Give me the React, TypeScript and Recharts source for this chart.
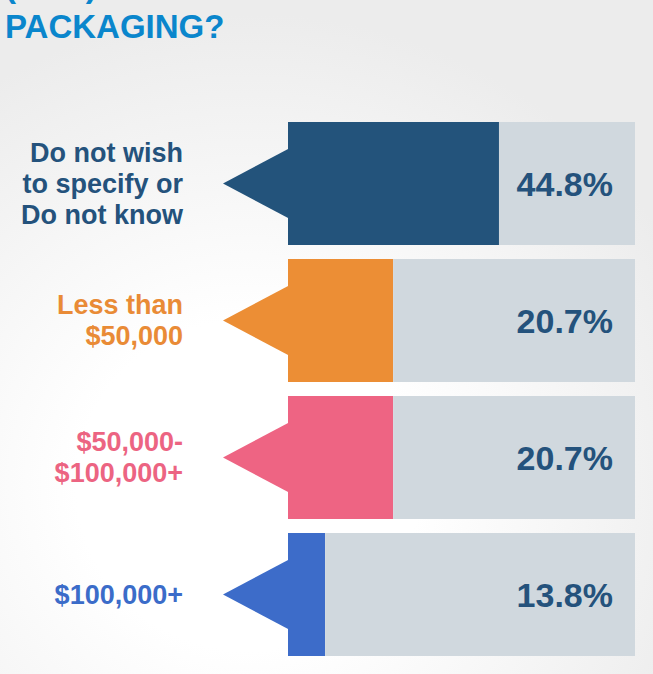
import React from 'react'
import { BarChart, Bar, XAxis, YAxis, LabelList } from 'recharts'

// ─── Data ───
const categories = [
  'Do not wish\nto specify or\nDo not know',
  'Less than\n$50,000',
  '$50,000-\n$100,000+',
  '$100,000+',
]
const shareLabels = ['44.8%', '20.7%', '20.7%', '13.8%']
// filled part of each bar as drawn, in % of the grey track
const fillLength = [60.8, 30.3, 30.3, 10.7]
const barColors = ['#23537b', '#ec8e35', '#ee6483', '#3d6cc9']
const labelColors = ['#24527c', '#e98b36', '#ec6482', '#3b6cc9']

const TRACK = '#d0d8de'
const FONT = '"Liberation Sans", Arial, Helvetica, sans-serif'
const W = 653
const H = 674

const data = categories.map((name, i) => ({
  name,
  filled: fillLength[i],
  rest: 100 - fillLength[i],
  share: shareLabels[i],
}))

function ArrowBar(props: any) {
  const { x, y, width, height, index } = props
  const cy = y + height / 2
  const tri = `M${x + 1},${cy - 35} L${x - 65},${cy} L${x + 1},${cy + 35} Z`
  return (
    <g>
      <path d={tri} fill={barColors[index]} />
      <rect x={x} y={y} width={width} height={height} fill={barColors[index]} />
    </g>
  )
}

function CategoryTick(props: any) {
  const { y, payload, index } = props
  const lines = String(payload.value).split('\n')
  const lh = 31
  const start = y - ((lines.length - 1) * lh) / 2
  return (
    <text
      x={183}
      y={start}
      textAnchor="end"
      fontFamily={FONT}
      fontWeight="bold"
      fontSize={27}
      fill={labelColors[index]}
    >
      {lines.map((l, i) => (
        <tspan key={i} x={183} y={start + i * lh} dy={9}>
          {l}
        </tspan>
      ))}
    </text>
  )
}

function ShareLabel(props: any) {
  const { x, y, width, height, value } = props
  return (
    <text
      x={x + width - 22}
      y={y + height / 2 + 12}
      textAnchor="end"
      fontFamily={FONT}
      fontWeight="bold"
      fontSize={34}
      fill="#24527c"
    >
      {value}
    </text>
  )
}

export default function App() {
  return (
    <div
      style={{
        position: 'absolute',
        left: 0,
        top: 0,
        width: W,
        height: H,
        overflow: 'hidden',
        background: 'radial-gradient(ellipse 75% 70% at 38% 72%, #ffffff 35%, #ececec 100%)',
      }}
    >
      <svg width={W} height={H} style={{ position: 'absolute', left: 0, top: 0 }}>
        <text x={5} y={-3} fontFamily={FONT} fontWeight="bold" fontSize={33} fill="#0a86cc">
          (USD)
        </text>
        <text x={5} y={38} fontFamily={FONT} fontWeight="bold" fontSize={33} fill="#0a86cc">
          PACKAGING?
        </text>
      </svg>
      <div style={{ position: 'absolute', left: 0, top: 0 }}>
        <BarChart
          width={W}
          height={H}
          data={data}
          layout="vertical"
          margin={{ top: 115, right: 18, bottom: 11, left: 0 }}
          barSize={123}
        >
          <XAxis type="number" domain={[0, 100]} hide />
          <YAxis
            type="category"
            dataKey="name"
            width={288}
            axisLine={false}
            tickLine={false}
            tickSize={0}
            tick={<CategoryTick />}
          />
          <Bar dataKey="filled" stackId="a" shape={<ArrowBar />} isAnimationActive={false} />
          <Bar dataKey="rest" stackId="a" fill={TRACK} isAnimationActive={false}>
            <LabelList dataKey="share" content={<ShareLabel />} />
          </Bar>
        </BarChart>
      </div>
    </div>
  )
}
